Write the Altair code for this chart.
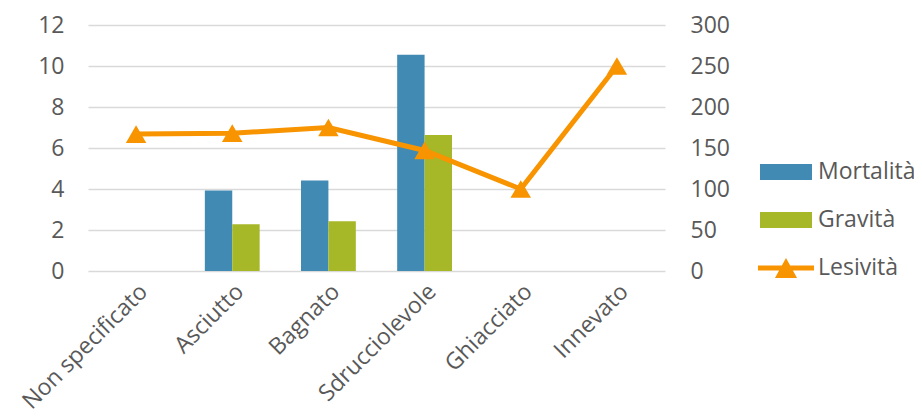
import altair as alt
import pandas as pd

categorie = ["Non specificato", "Asciutto", "Bagnato", "Sdrucciolevole", "Ghiacciato", "Innevato"]
mortalita = [0, 3.93, 4.42, 10.55, 0, 0]
gravita = [0, 2.28, 2.43, 6.64, 0, 0]
lesivita = [167, 168, 175, 147, 100, 250]
serie = ["Mortalità", "Gravità", "Lesività"]
colori = ["#418AB3", "#A6B727", "#F79400"]
ticks_sx = [0, 2, 4, 6, 8, 10, 12]
ticks_dx = [0, 50, 100, 150, 200, 250, 300]

FONT = "Open Sans"
GREY = "#595959"
FS = 23

bars_df = pd.DataFrame({
    "cat": categorie * 2,
    "serie": [serie[0]] * len(categorie) + [serie[1]] * len(categorie),
    "val": mortalita + gravita,
})
line_df = pd.DataFrame({"cat": categorie, "serie": serie[2], "val": lesivita})

rect_path = "M-1.083,-0.333H1.083V0.333H-1.083Z"
line_tri_path = "M-1.167,-0.104H1.167V0.104H-1.167Z M0,-0.42L0.46,0.42L-0.46,0.42Z"

color_scale = alt.Scale(domain=serie, range=colori)
x_enc = alt.X("cat:N", sort=categorie, title=None,
              scale=alt.Scale(paddingInner=0.43, paddingOuter=0.215),
              axis=alt.Axis(labelAngle=-45, labelAlign="right", labelBaseline="top",
                            labelPadding=9, domain=False, ticks=False,
                            labelFont=FONT, labelFontSize=FS, labelColor=GREY))

bars = alt.Chart(bars_df).mark_bar().encode(
    x=x_enc,
    xOffset=alt.XOffset("serie:N", sort=serie[:2], scale=alt.Scale(paddingInner=0, paddingOuter=0)),
    y=alt.Y("val:Q", title=None,
            scale=alt.Scale(domain=[0, 12], nice=False),
            axis=alt.Axis(values=ticks_sx, domain=False, ticks=False, grid=True,
                          gridColor="#D9D9D9", gridWidth=1.5, labelPadding=24,
                          labelFont=FONT, labelFontSize=FS, labelColor=GREY)),
    color=alt.Color("serie:N", scale=color_scale,
                    legend=alt.Legend(title=None, orient="none", legendX=674, legendY=123,
                                      symbolSize=2304, rowPadding=12, padding=0,
                                      labelOffset=8, symbolStrokeWidth=0, symbolOpacity=1,
                                      labelFont=FONT, labelFontSize=FS, labelColor=GREY)),
)

y_dx = alt.Y("val:Q", title=None,
             scale=alt.Scale(domain=[0, 300], nice=False),
             axis=alt.Axis(values=ticks_dx, orient="right", domain=False, ticks=False, grid=False,
                           labelPadding=25, labelFont=FONT, labelFontSize=FS, labelColor=GREY))

line = alt.Chart(line_df).mark_line(color=colori[2], strokeWidth=5).encode(
    x=alt.X("cat:N", sort=categorie), y=y_dx)
points = alt.Chart(line_df).mark_point(shape="triangle-up", filled=True, size=420,
                                       color=colori[2], opacity=1).encode(
    x=alt.X("cat:N", sort=categorie), y=y_dx)
ghost = alt.Chart(line_df).mark_point(filled=True, opacity=1).encode(
    x=alt.X("cat:N", sort=categorie), y=y_dx,
    color=alt.Color("serie:N", scale=color_scale),
    shape=alt.Shape("serie:N", scale=alt.Scale(domain=serie, range=[rect_path, rect_path, line_tri_path]),
                    legend=alt.Legend(title=None)),
).transform_filter("false")

right = alt.layer(line, points, ghost)

chart = alt.layer(bars, right).resolve_scale(y="independent").properties(
    width=577, height=246,
    autosize=alt.AutoSizeParams(type="none"),
    padding={"left": 80, "top": 17, "right": 249, "bottom": 143},
).configure_view(stroke=None)

chart.save("out.html", embed_options={"renderer": "svg", "actions": False})
